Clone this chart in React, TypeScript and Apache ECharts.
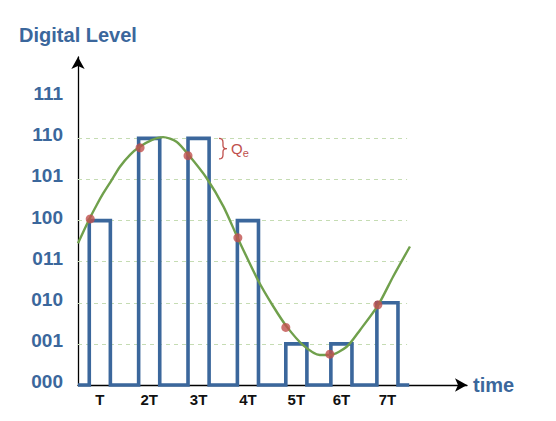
import { useEffect, useRef } from 'react';
import * as echarts from 'echarts';

// level names on the y axis, 0..7
const levelLabels = ['000', '001', '010', '011', '100', '101', '110', '111'];
const timeLabels = ['T', '2T', '3T', '4T', '5T', '6T', '7T'];

// sample-and-hold: left edge (in T) and held level of each pulse
const sampleTimes = [1.0, 2.03, 3.06, 4.09, 5.1, 6.04, 7.0];
const heldLevels = [4, 6, 6, 4, 1, 1, 2];
const holdWidth = 0.44;

// red sampling points on the analog signal
const sampleDots: [number, number][] = [
  [1.02, 4.04],
  [2.06, 5.77],
  [3.06, 5.58],
  [4.1, 3.58],
  [5.1, 1.4],
  [6.02, 0.75],
  [7.02, 1.95],
];

// analog signal
const analogCurve: [number, number][] = [
  [0.765, 3.45],
  [0.99, 4.01],
  [1.155, 4.38],
  [1.29, 4.66],
  [1.47, 4.99],
  [1.64, 5.31],
  [1.85, 5.6],
  [2.06, 5.8],
  [2.3, 5.96],
  [2.54, 6.03],
  [2.82, 5.92],
  [3.07, 5.6],
  [3.45, 5.03],
  [3.8, 4.34],
  [4.1, 3.57],
  [4.52, 2.55],
  [4.84, 1.91],
  [5.12, 1.42],
  [5.46, 0.97],
  [5.81, 0.73],
  [6.02, 0.73],
  [6.37, 0.93],
  [6.65, 1.34],
  [7.03, 1.95],
  [7.34, 2.64],
  [7.69, 3.37],
];

const gridLevels = [1, 2, 3, 4, 5, 6];
const gridEnd = 7.63;
const baselineEnd = 7.675;
const xMin = 0.765;
const xMax = 8.88;
const yMax = 7.98;
// quantization error brace: x, top level, bottom level
const qeBrace: [number, number, number][] = [[3.706, 6, 5.5]];

const BLUE = '#3B679C';
const RED = '#C0504D';
const GREEN = '#70A04C';
const FONT = '"Liberation Sans", Arial, sans-serif';

export default function App() {
  const ref = useRef<HTMLDivElement | null>(null);

  useEffect(() => {
    if (!ref.current) return;
    const chart = echarts.init(ref.current, undefined, { renderer: 'svg' });

    const stepPath: [number, number][] = [[xMin, 0]];
    sampleTimes.forEach((t, i) => {
      stepPath.push([t, 0], [t, heldLevels[i]], [t + holdWidth, heldLevels[i]], [t + holdWidth, 0]);
    });
    stepPath.push([baselineEnd, 0]);

    const labelTimes = sampleTimes.map((t) => t + holdWidth / 2);

    chart.setOption({
      animation: false,
      backgroundColor: '#ffffff',
      grid: { left: 78, right: 89, top: 57, bottom: 36 },
      xAxis: {
        type: 'value',
        min: xMin,
        max: xMax,
        name: 'time',
        nameLocation: 'end',
        nameGap: 6,
        nameTextStyle: {
          color: BLUE,
          fontSize: 20,
          fontWeight: 'bold',
          fontFamily: FONT,
          verticalAlign: 'middle',
        },
        axisLine: {
          lineStyle: { color: '#000', width: 1.3 },
          symbol: ['none', 'arrow'],
          symbolSize: [10, 12],
        },
        axisTick: { show: false },
        splitLine: { show: false },
        axisLabel: {
          customValues: labelTimes,
          margin: 7,
          color: '#111',
          fontSize: 15,
          fontWeight: 'bold',
          fontFamily: FONT,
          formatter: (v: number) => {
            const i = labelTimes.findIndex((t) => Math.abs(t - v) < 1e-6);
            return i >= 0 ? timeLabels[i] : '';
          },
        },
      },
      yAxis: {
        type: 'value',
        min: 0,
        max: yMax,
        interval: 1,
        name: 'Digital Level',
        nameLocation: 'end',
        nameGap: 12,
        nameTextStyle: {
          color: BLUE,
          fontSize: 20,
          fontWeight: 'bold',
          fontFamily: FONT,
        },
        axisLine: {
          show: true,
          lineStyle: { color: '#000', width: 1.3 },
          symbol: ['none', 'arrow'],
          symbolSize: [10, 12],
        },
        axisTick: { show: false },
        splitLine: { show: false },
        axisLabel: {
          margin: 15,
          color: BLUE,
          fontSize: 19,
          fontWeight: 'bold',
          fontFamily: FONT,
          verticalAlign: 'bottom',
          lineHeight: 7,
          formatter: (v: number) => levelLabels[v] ?? '',
        },
      },
      series: [
        {
          type: 'line',
          data: [],
          silent: true,
          z: 1,
          markLine: {
            silent: true,
            z: 1,
            symbol: ['none', 'none'],
            label: { show: false },
            lineStyle: { color: '#C5DCB3', width: 1.2, type: [4, 4] },
            data: gridLevels.map((l) => [{ coord: [xMin, l] }, { coord: [gridEnd, l] }]),
          },
        },
        {
          type: 'line',
          data: stepPath,
          showSymbol: false,
          clip: false,
          z: 3,
          lineStyle: { color: BLUE, width: 3.6, join: 'miter', cap: 'butt' },
        },
        {
          type: 'line',
          data: analogCurve,
          smooth: 0.25,
          showSymbol: false,
          clip: false,
          z: 4,
          lineStyle: { color: GREEN, width: 2.4 },
        },
        {
          type: 'scatter',
          data: sampleDots,
          symbolSize: 9,
          z: 5,
          itemStyle: { color: RED },
        },
        {
          type: 'custom',
          data: qeBrace,
          z: 5,
          encode: { x: 0, y: [1, 2] },
          renderItem: (_params: unknown, api: any) => {
            const top = api.coord([api.value(0), api.value(1)]);
            const bot = api.coord([api.value(0), api.value(2)]);
            const x = top[0];
            const y1 = top[1];
            const y2 = bot[1];
            const ym = (y1 + y2) / 2;
            const d = `M${x} ${y1} Q${x + 4} ${y1} ${x + 4} ${y1 + 4} L${x + 4} ${ym - 3} Q${x + 4} ${ym} ${x + 8} ${ym} Q${x + 4} ${ym} ${x + 4} ${ym + 3} L${x + 4} ${y2 - 4} Q${x + 4} ${y2} ${x} ${y2}`;
            return {
              type: 'group',
              children: [
                {
                  type: 'path',
                  shape: { pathData: d },
                  style: { fill: 'none', stroke: RED, lineWidth: 1.3 },
                },
                {
                  type: 'text',
                  x: x + 12,
                  y: ym,
                  style: {
                    text: '{q|Q}{e|e}',
                    verticalAlign: 'middle',
                    rich: {
                      q: { fontSize: 15, fill: RED, fontFamily: FONT },
                      e: { fontSize: 11, fill: RED, fontFamily: FONT, padding: [9, 0, 0, 0] },
                    },
                  },
                },
              ],
            };
          },
        },
      ],
    });

    return () => chart.dispose();
  }, []);

  return (
    <div
      ref={ref}
      style={{ position: 'absolute', left: 0, top: 0, width: 556, height: 421, background: '#fff' }}
    />
  );
}
